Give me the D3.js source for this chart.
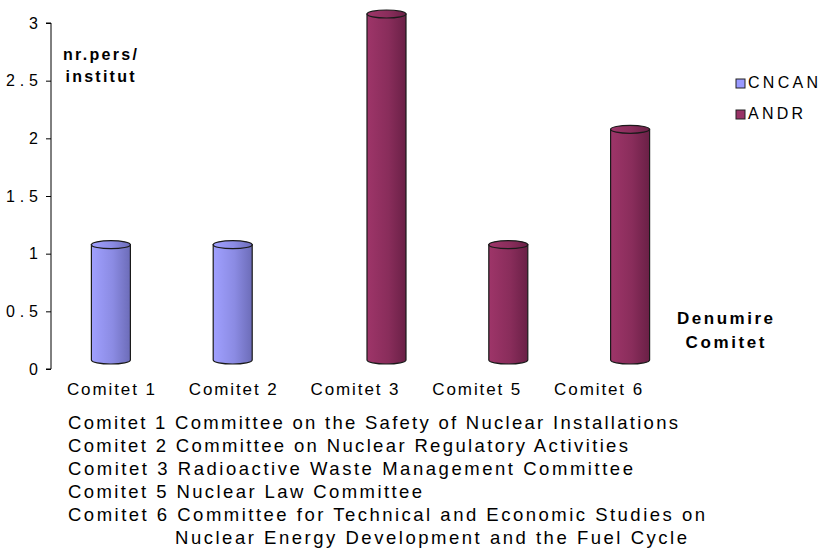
<!DOCTYPE html>
<html><head><meta charset="utf-8">
<script src="https://cdn.jsdelivr.net/npm/d3@7"></script>
<style>body{margin:0;background:#fff}svg{display:block}text{font-family:"Liberation Sans",Arial,sans-serif;fill:#000}</style>
</head><body>
<svg id="c" width="821" height="556"></svg>
<script>
const categories = ["Comitet 1","Comitet 2","Comitet 3","Comitet 5","Comitet 6"];
const series = ["CNCAN","ANDR"];
const cncanValues = [1,1,0,0,0];
const andrValues = [0,0,3,1,2];
const yTicks = [0,0.5,1,1.5,2,2.5,3];
const yTickLabels = ["0","0.5","1","1.5","2","2.5","3"];
const yTitle = ["nr.pers/","institut"];
const xTitle = ["Denumire","Comitet"];
const notes = [
  "Comitet 1 Committee on the Safety of Nuclear Installations",
  "Comitet 2 Committee on Nuclear Regulatory Activities",
  "Comitet 3 Radioactive Waste Management Committee",
  "Comitet 5 Nuclear Law Committee",
  "Comitet 6 Committee for Technical and Economic Studies on",
  "Nuclear Energy Development and the Fuel Cycle"
];

const colors = {CNCAN:["#a0a0ff","#6c6cb8"], ANDR:["#9e3569","#6a2046"]};
const legendFill = {CNCAN:"#9999ff", ANDR:"#993366"};
const svg = d3.select("#c");
const defs = svg.append("defs");
series.forEach(s=>{
  const g = defs.append("linearGradient").attr("id","g"+s).attr("x1","0").attr("x2","1").attr("y1","0").attr("y2","0");
  g.append("stop").attr("offset","0").attr("stop-color",colors[s][0]);
  g.append("stop").attr("offset","0.55").attr("stop-color",d3.interpolateRgb(colors[s][0],colors[s][1])(0.4));
  g.append("stop").attr("offset","1").attr("stop-color",colors[s][1]);
});

const y = d3.scaleLinear().domain([0,3]).range([369,23]);
const x0 = d3.scaleBand().domain(categories).range([50,659]).padding(0);
const x1 = d3.scalePoint().domain(series).range([0,32]);

// axis
const axisX = 51;
const ax = svg.append("g").attr("transform",`translate(${axisX},0)`)
  .call(d3.axisLeft(y).tickValues(yTicks).tickSize(5).tickFormat((d,i)=>yTickLabels[i]));
ax.select(".domain").attr("stroke","#000").attr("d",`M-5,${y(3)}H0V${y(0)}H-5`);
ax.selectAll(".tick line").attr("stroke","#000");
ax.selectAll(".tick text").attr("x",-13).attr("font-size","16px").attr("fill","#000")
  .attr("font-family","Liberation Sans, Arial, sans-serif")
  .each(function(d,i){ if(yTickLabels[i].length>1) d3.select(this).attr("textLength",32).attr("lengthAdjust","spacing"); });

// bars
const depth = 9, bw = 39, ry = 4;
const data = [];
categories.forEach((c,i)=>{
  data.push({c, s:"CNCAN", v:cncanValues[i]});
  data.push({c, s:"ANDR", v:andrValues[i]});
});
const bars = svg.append("g").selectAll("g").data(data.filter(d=>d.v>0)).join("g");
bars.each(function(d){
  const g = d3.select(this);
  const cx = x0(d.c)+x0.bandwidth()/2 + x1(d.s);
  const l = cx-bw/2, r = cx+bw/2;
  const yt = y(d.v)-depth, yb = y(0)-depth;
  g.append("path").attr("d",`M${l},${yt}L${l},${yb}A${bw/2},${ry} 0 0 0 ${r},${yb}L${r},${yt}Z`)
    .attr("fill",`url(#g${d.s})`).attr("stroke","#1a1a1a").attr("stroke-width",1.2);
  g.append("ellipse").attr("cx",cx).attr("cy",yt).attr("rx",bw/2).attr("ry",ry)
    .attr("fill",`url(#g${d.s})`).attr("stroke","#1a1a1a").attr("stroke-width",1.2);
});

// category labels
svg.append("g").selectAll("text").data(categories).join("text")
  .attr("x",d=>x0(d)+x0.bandwidth()/2).attr("y",395).attr("text-anchor","middle")
  .attr("font-size","17px").attr("textLength",88).attr("lengthAdjust","spacing").text(d=>d);

// y title
svg.append("g").selectAll("text").data(yTitle).join("text")
  .attr("x",100).attr("y",(d,i)=>[60,82][i]).attr("text-anchor","middle")
  .attr("font-size","16px").attr("font-weight","bold")
  .attr("textLength",(d,i)=>[74,69][i]).attr("lengthAdjust","spacing").text(d=>d);

// x title
svg.append("g").selectAll("text").data(xTitle).join("text")
  .attr("x",725).attr("y",(d,i)=>[324,348][i]).attr("text-anchor","middle")
  .attr("font-size","17px").attr("font-weight","bold")
  .attr("textLength",(d,i)=>[96,79][i]).attr("lengthAdjust","spacing").text(d=>d);

// legend
const lg = svg.append("g").selectAll("g").data(series).join("g")
  .attr("transform",(d,i)=>`translate(736,${[79,110][i]})`);
lg.append("rect").attr("width",9).attr("height",9).attr("fill",d=>legendFill[d])
  .attr("stroke","#222").attr("stroke-width",1);
lg.append("text").attr("x",12).attr("y",9).attr("font-size","16px")
  .attr("textLength",(d,i)=>[70,55][i]).attr("lengthAdjust","spacing").text(d=>d);

// notes
const noteX = [68,68,68,68,68,175];
const noteW = [610,560,565,354,637,512];
svg.append("g").selectAll("text").data(notes).join("text")
  .attr("x",(d,i)=>noteX[i]).attr("y",(d,i)=>429+i*23)
  .attr("font-size","18.5px").attr("textLength",(d,i)=>noteW[i]).attr("lengthAdjust","spacing").text(d=>d);
</script>
</body></html>
